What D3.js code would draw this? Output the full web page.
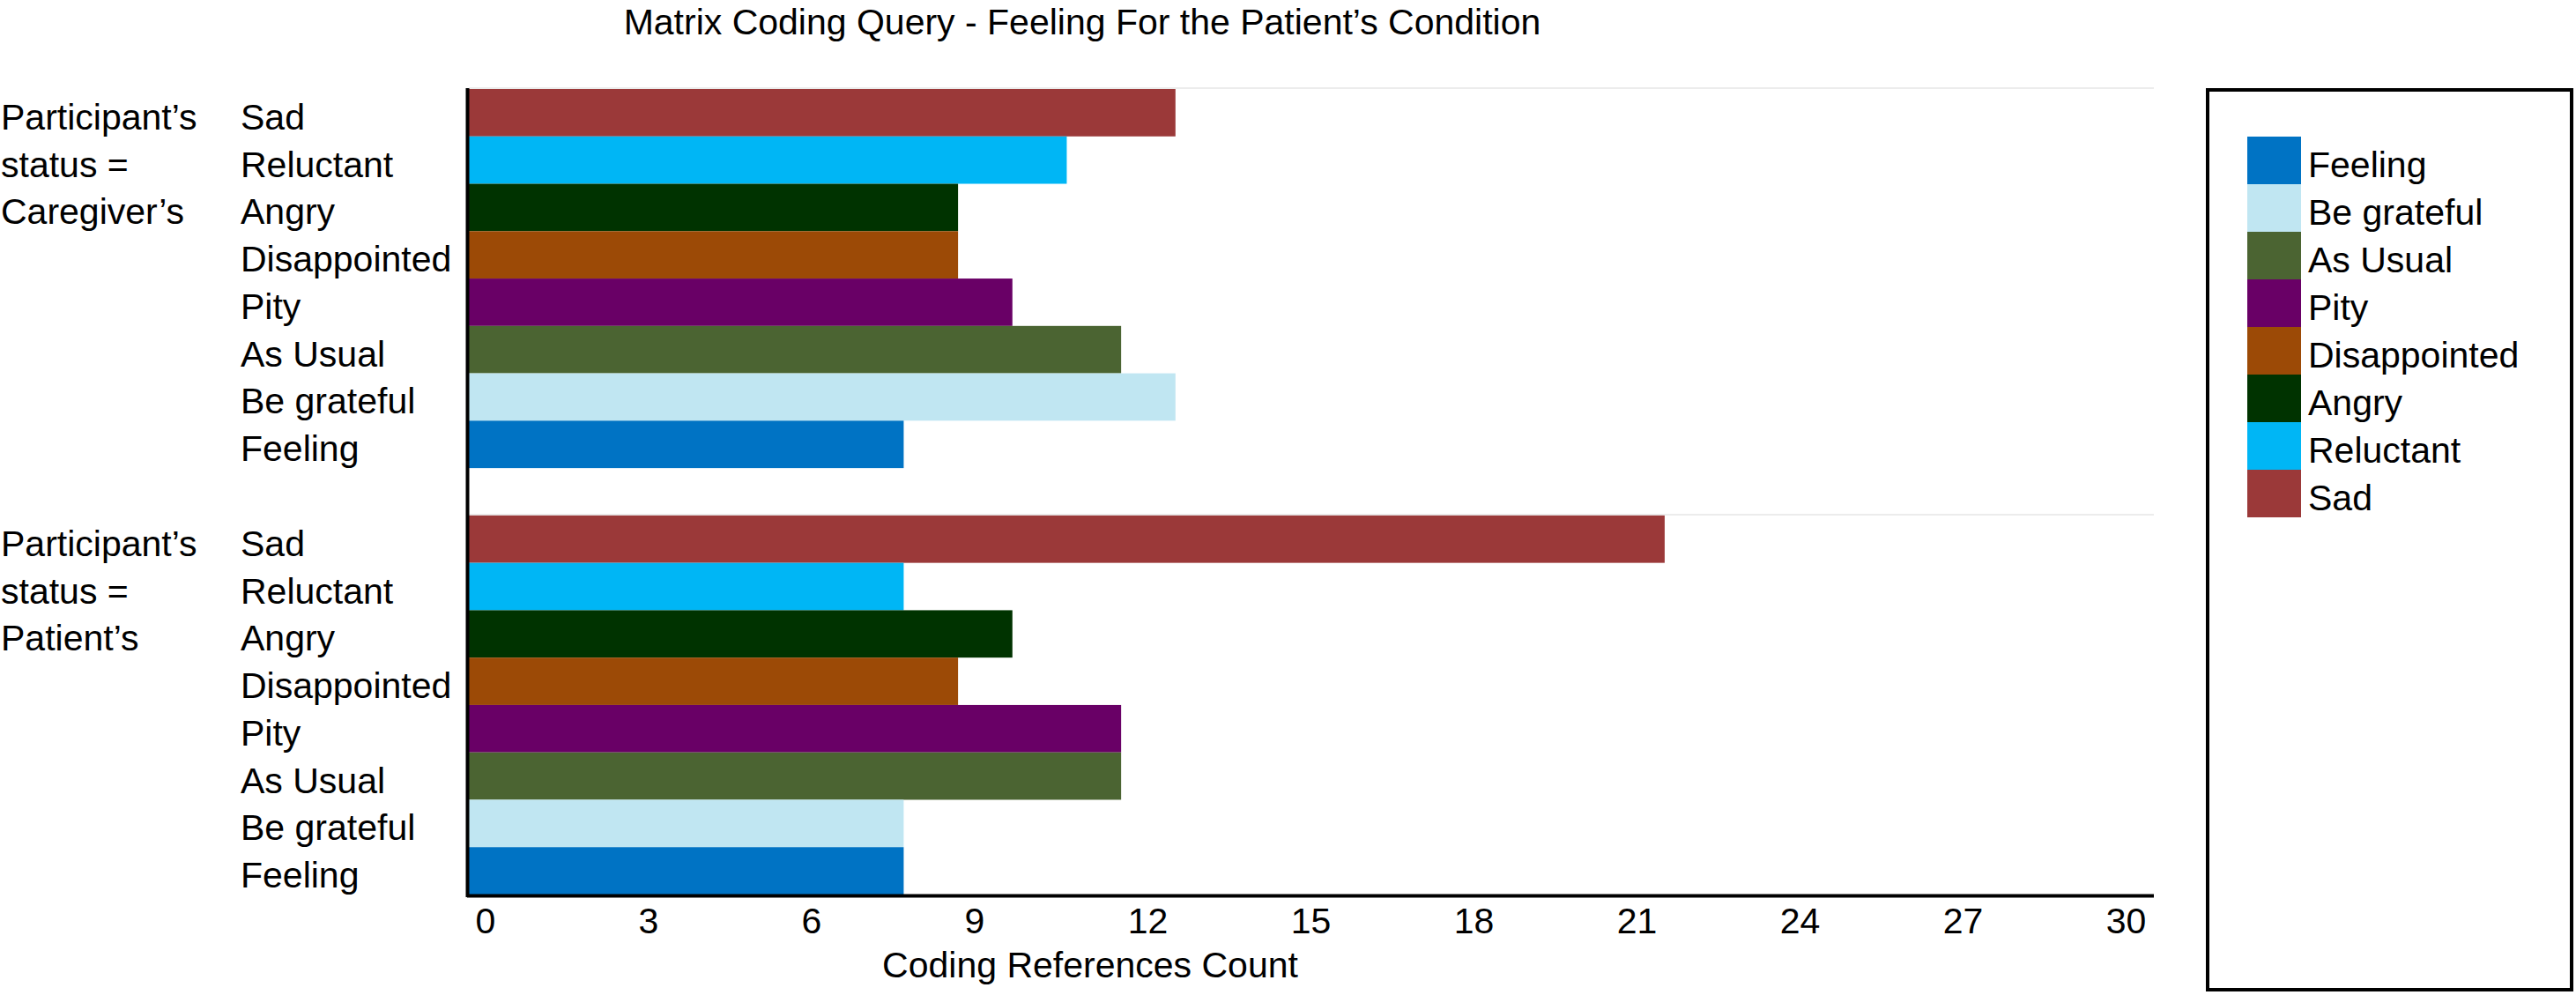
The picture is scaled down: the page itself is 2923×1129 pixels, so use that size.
<!DOCTYPE html>
<html>
<head>
<meta charset="utf-8">
<script src="https://cdn.jsdelivr.net/npm/d3@7"></script>
<style>
  body { margin: 0; background: #fff; }
  text { font-family: "Liberation Sans", Arial, sans-serif; fill: #000; }
</style>
</head>
<body>
<div id="chart"></div>
<script>
var emotions = ["Sad", "Reluctant", "Angry", "Disappointed", "Pity", "As Usual", "Be grateful", "Feeling"],
  groups = ["Caregiver's", "Patient's"],
  groupLines = [["Participant\u2019s", "status =", "Caregiver\u2019s"], ["Participant\u2019s", "status =", "Patient\u2019s"]],
  caregiverCounts = [13, 11, 9, 9, 10, 12, 13, 8],
  patientCounts = [22, 8, 10, 9, 12, 12, 8, 8],
  colors = ["#9b3939", "#00b6f5", "#003300", "#9c4a06", "#690066", "#4b6432", "#c0e6f2", "#0073c4"],
  xTicks = [0, 3, 6, 9, 12, 15, 18, 21, 24, 27, 30],
  title = "Matrix Coding Query - Feeling For the Patient\u2019s Condition",
  xTitle = "Coding References Count";

var w = 2923,
  h = 1129,
  plotLeft = 532,
  plotRight = 2444,
  plotTop = 101,
  plotBottom = 1015,
  fs = 41;

var x = d3.scaleLinear().domain([0, 31]).range([plotLeft, plotRight]);
var yGroup = d3.scaleBand().domain(groups).range([plotTop, plotBottom]).paddingInner(1 / 9).paddingOuter(0);
var yBar = d3.scaleBand().domain(emotions).range([0, yGroup.bandwidth()]);
var color = d3.scaleOrdinal().domain(emotions).range(colors);

var rows = [];
groups.forEach(function(g, gi) {
  var vals = gi === 0 ? caregiverCounts : patientCounts;
  emotions.forEach(function(e, i) {
    rows.push({group: g, emotion: e, value: vals[i]});
  });
});

var chart = d3.select("#chart").
append("svg").
attr("width", w).
attr("height", h).
attr("style", "background-color: white;");

// faint band separators
chart.append("g").selectAll("line").data(groups).enter().append("line").
attr("x1", plotLeft).attr("x2", plotRight).
attr("y1", function(d) { return yGroup(d) - 1; }).
attr("y2", function(d) { return yGroup(d) - 1; }).
attr("stroke", "#ececec").attr("stroke-width", 2);

chart.append("g").selectAll("rect").data(rows).enter().append("rect").
attr("x", x(0)).
attr("y", function(d) { return yGroup(d.group) + yBar(d.emotion); }).
attr("width", function(d) { return x(d.value) - x(0); }).
attr("height", yBar.bandwidth()).
attr("fill", function(d) { return color(d.emotion); });

// category labels
chart.append("g").selectAll("text").data(rows).enter().append("text").
attr("x", 273).
attr("y", function(d) { return yGroup(d.group) + yBar(d.emotion) + yBar.bandwidth() / 2 + 19; }).
attr("font-size", fs).
text(function(d) { return d.emotion; });

// group labels
groups.forEach(function(g, gi) {
  chart.append("g").selectAll("text").data(groupLines[gi]).enter().append("text").
  attr("x", 1).
  attr("y", function(d, i) { return yGroup(g) + yBar(emotions[i]) + yBar.bandwidth() / 2 + 19; }).
  attr("font-size", fs).
  text(function(d) { return d; });
});

// axes
var xAxis = d3.axisBottom(x).tickValues(xTicks).tickSize(0).tickSizeOuter(0);
var xg = chart.append("g").
attr("transform", "translate(0," + (plotBottom + 1.5) + ")").
call(xAxis);
xg.select(".domain").attr("stroke", "#000").attr("stroke-width", 4).
attr("d", "M" + (plotLeft - 2) + ",0H" + plotRight);
xg.selectAll("text").
attr("text-anchor", "start").
attr("x", 7).
attr("y", 42).
attr("dy", null).
attr("font-size", fs).
attr("font-family", "Liberation Sans, Arial, sans-serif").
attr("fill", "#000");

chart.append("line").
attr("x1", plotLeft - 1.5).attr("x2", plotLeft - 1.5).
attr("y1", plotTop - 1).attr("y2", plotBottom + 3).
attr("stroke", "#000").attr("stroke-width", 4);

chart.append("text").
attr("x", 1237).attr("y", 1109).
attr("text-anchor", "middle").
attr("font-size", fs).
text(xTitle);

chart.append("text").
attr("x", 1228).attr("y", 39).
attr("text-anchor", "middle").
attr("font-size", 41).
text(title);

// legend
var legendOrder = emotions.slice().reverse();
var ly = d3.scaleBand().domain(legendOrder).range([155, 155 + 54 * legendOrder.length]);

chart.append("rect").
attr("x", 2505).attr("y", 102).
attr("width", 413).attr("height", 1021).
attr("fill", "none").attr("stroke", "#000").attr("stroke-width", 4);

var legend = chart.append("g");
legend.selectAll("rect").data(legendOrder).enter().append("rect").
attr("x", 2550).
attr("y", function(d) { return ly(d); }).
attr("width", 61).
attr("height", ly.bandwidth()).
attr("fill", function(d) { return color(d); });
legend.selectAll("text").data(legendOrder).enter().append("text").
attr("x", 2619).
attr("y", function(d) { return ly(d) + 46; }).
attr("font-size", fs).
text(function(d) { return d; });
</script>
</body>
</html>
